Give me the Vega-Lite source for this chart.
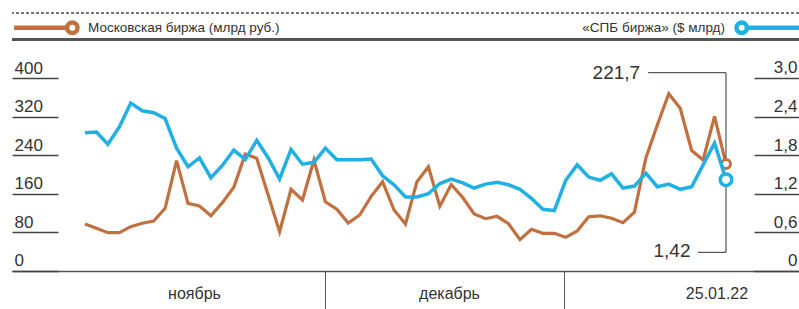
{
  "$schema": "https://vega.github.io/schema/vega-lite/v6.json",
  "width": 787,
  "height": 309,
  "autosize": {"type": "none"},
  "padding": {"left": 12, "top": 0, "right": 0, "bottom": 0},
  "background": "white",
  "config": {
    "view": {"stroke": null},
    "locale": {"number": {"decimal": ",", "thousands": " ", "grouping": [3], "currency": ["", ""]}}
  },
  "title": {
    "text": "ИСТОЧНИКИ: МОСКОВСКАЯ БИРЖА, «СПБ БИРЖА»",
    "anchor": "start",
    "frame": "group",
    "offset": -4,
    "baseline": "alphabetic",
    "font": "Liberation Sans",
    "fontSize": 12,
    "fontWeight": "normal",
    "color": "#333"
  },
  "data": {
    "values": [
      {"i": 0, "msk": 97.4, "spb": 2.15},
      {"i": 1, "msk": 88.5, "spb": 2.16},
      {"i": 2, "msk": 79.4, "spb": 1.97},
      {"i": 3, "msk": 79.4, "spb": 2.24},
      {"i": 4, "msk": 91.8, "spb": 2.61},
      {"i": 5, "msk": 98.9, "spb": 2.49},
      {"i": 6, "msk": 103.6, "spb": 2.46},
      {"i": 7, "msk": 129.9, "spb": 2.37},
      {"i": 8, "msk": 228.6, "spb": 1.91},
      {"i": 9, "msk": 140.3, "spb": 1.62},
      {"i": 10, "msk": 134.7, "spb": 1.76},
      {"i": 11, "msk": 114.6, "spb": 1.45},
      {"i": 12, "msk": 141.6, "spb": 1.64},
      {"i": 13, "msk": 173.5, "spb": 1.88},
      {"i": 14, "msk": 242.5, "spb": 1.73},
      {"i": 15, "msk": 233.6, "spb": 2.03},
      {"i": 16, "msk": 157.5, "spb": 1.76},
      {"i": 17, "msk": 81.5, "spb": 1.43},
      {"i": 18, "msk": 169.3, "spb": 1.89},
      {"i": 19, "msk": 147.2, "spb": 1.66},
      {"i": 20, "msk": 230.0, "spb": 1.69},
      {"i": 21, "msk": 143.6, "spb": 1.91},
      {"i": 22, "msk": 127.9, "spb": 1.73},
      {"i": 23, "msk": 99.5, "spb": 1.73},
      {"i": 24, "msk": 116.1, "spb": 1.73},
      {"i": 25, "msk": 154.8, "spb": 1.74},
      {"i": 26, "msk": 185.1, "spb": 1.48},
      {"i": 27, "msk": 126.4, "spb": 1.34},
      {"i": 28, "msk": 97.4, "spb": 1.15},
      {"i": 29, "msk": 185.1, "spb": 1.15},
      {"i": 30, "msk": 216.2, "spb": 1.2},
      {"i": 31, "msk": 134.1, "spb": 1.36},
      {"i": 32, "msk": 179.3, "spb": 1.43},
      {"i": 33, "msk": 152.3, "spb": 1.37},
      {"i": 34, "msk": 118.1, "spb": 1.29},
      {"i": 35, "msk": 108.4, "spb": 1.35},
      {"i": 36, "msk": 113.4, "spb": 1.38},
      {"i": 37, "msk": 98.0, "spb": 1.34},
      {"i": 38, "msk": 64.9, "spb": 1.27},
      {"i": 39, "msk": 86.4, "spb": 1.13},
      {"i": 40, "msk": 78.1, "spb": 0.96},
      {"i": 41, "msk": 78.1, "spb": 0.94},
      {"i": 42, "msk": 69.8, "spb": 1.41},
      {"i": 43, "msk": 82.9, "spb": 1.65},
      {"i": 44, "msk": 112.5, "spb": 1.46},
      {"i": 45, "msk": 114.4, "spb": 1.41},
      {"i": 46, "msk": 109.2, "spb": 1.51},
      {"i": 47, "msk": 100.1, "spb": 1.29},
      {"i": 48, "msk": 121.9, "spb": 1.32},
      {"i": 49, "msk": 234.2, "spb": 1.52},
      {"i": 50, "msk": 302.6, "spb": 1.31},
      {"i": 51, "msk": 367.5, "spb": 1.35},
      {"i": 52, "msk": 337.2, "spb": 1.27},
      {"i": 53, "msk": 249.7, "spb": 1.31},
      {"i": 54, "msk": 230.0, "spb": 1.65},
      {"i": 55, "msk": 320.6, "spb": 1.99},
      {"i": 56, "msk": 221.7, "spb": 1.42}
    ]
  },
  "layer": [
    {
      "layer": [
        {
          "mark": {"type": "rule", "strokeDash": [3, 2], "color": "#777", "strokeWidth": 1},
          "encoding": {"y": {"datum": 534.1, "type": "quantitative", "scale": {"domain": [-78.76, 561.66], "nice": false, "zero": false}, "title": null}}
        },
        {
          "mark": {"type": "rule", "color": "#555", "strokeWidth": 1.5},
          "encoding": {"y": {"datum": 479.8, "type": "quantitative", "scale": {"domain": [-78.76, 561.66], "nice": false, "zero": false}, "title": null}}
        },
        {
          "mark": {"type": "line", "strokeWidth": 3.2},
          "encoding": {
            "x": {
              "field": "i", "type": "quantitative", "title": null,
              "scale": {"domain": [-6.3776, 62.378], "nice": false, "zero": false},
              "axis": {
                "orient": "bottom", "offset": -38,
                "values": [9.52, 21, 31.8, 41.85, 55.17],
                "domainColor": "#555", "domainWidth": 1.5,
                "tickSize": 38, "tickColor": "#555", "tickWidth": 1,
                "tickOpacity": {"condition": {"test": "datum.value == 21 || datum.value == 41.85", "value": 1}, "value": 0},
                "labelExpr": "datum.value < 15 ? 'ноябрь' : datum.value < 25 ? '' : datum.value < 40 ? 'декабрь' : datum.value < 50 ? '' : '25.01.22'",
                "labelPadding": -16, "labelBaseline": "middle",
                "labelFont": "Liberation Sans", "labelFontSize": 16, "labelColor": "#333",
                "labelFlush": false, "labelOverlap": false, "labelBound": false,
                "grid": false, "title": null
              }
            },
            "y": {
              "field": "msk", "type": "quantitative", "title": null,
              "scale": {"domain": [-78.76, 561.66], "nice": false, "zero": false},
              "axis": {
                "orient": "left", "values": [0, 80, 160, 240, 320, 400],
                "domain": false, "grid": false,
                "tickSize": -46, "tickColor": "#444", "tickWidth": 1.5,
                "labelPadding": 44, "labelAlign": "left", "labelBaseline": "alphabetic", "labelOffset": -5,
                "labelFont": "Liberation Sans", "labelFontSize": 17, "labelColor": "#333",
                "labelOverlap": false, "labelFlush": false, "title": null
              }
            },
            "color": {
              "datum": "Московская биржа (млрд руб.)", "type": "nominal",
              "scale": {"range": ["#C17040"]},
              "legend": {
                "orient": "none", "legendX": 52.8, "legendY": 20.3, "title": null, "padding": 0,
                "symbolType": "M1,0A1,1 0 1,1 -1,0A1,1 0 1,1 1,0Z M-1,0L-11.2,0",
                "symbolSize": 108, "symbolStrokeWidth": 4.5, "symbolFillColor": "white",
                "labelFont": "Liberation Sans", "labelFontSize": 13.5, "labelColor": "#333",
                "labelOffset": 8.2, "labelLimit": 400
              }
            }
          }
        },
        {
          "transform": [{"filter": "datum.i == 56"}],
          "mark": {"type": "rule", "color": "#333", "strokeWidth": 1},
          "encoding": {
            "x": {"field": "i", "type": "quantitative", "scale": {"domain": [-6.3776, 62.378], "nice": false, "zero": false}, "title": null},
            "x2": {"datum": 49.2},
            "y": {"datum": 411, "type": "quantitative", "scale": {"domain": [-78.76, 561.66], "nice": false, "zero": false}, "title": null}
          }
        },
        {
          "transform": [{"filter": "datum.i == 56"}],
          "mark": {"type": "rule", "color": "#333", "strokeWidth": 1},
          "encoding": {
            "x": {"field": "i", "type": "quantitative", "scale": {"domain": [-6.3776, 62.378], "nice": false, "zero": false}, "title": null},
            "y": {"field": "msk", "type": "quantitative", "scale": {"domain": [-78.76, 561.66], "nice": false, "zero": false}, "title": null},
            "y2": {"datum": 411}
          }
        },
        {
          "transform": [{"filter": "datum.i == 56"}],
          "mark": {"type": "text", "align": "right", "baseline": "middle", "font": "Liberation Sans", "fontSize": 19, "color": "#333"},
          "encoding": {
            "x": {"datum": 48.5, "type": "quantitative", "scale": {"domain": [-6.3776, 62.378], "nice": false, "zero": false}, "title": null},
            "y": {"datum": 410, "type": "quantitative", "scale": {"domain": [-78.76, 561.66], "nice": false, "zero": false}, "title": null},
            "text": {"field": "msk", "type": "quantitative", "format": ".1f"}
          }
        },
        {
          "transform": [{"filter": "datum.i == 56"}],
          "mark": {"type": "point", "shape": "circle", "filled": true, "fill": "white", "stroke": "#C17040", "strokeWidth": 3, "size": 81, "opacity": 1},
          "encoding": {
            "x": {"field": "i", "type": "quantitative", "scale": {"domain": [-6.3776, 62.378], "nice": false, "zero": false}, "title": null},
            "y": {"field": "msk", "type": "quantitative", "scale": {"domain": [-78.76, 561.66], "nice": false, "zero": false}, "title": null}
          }
        }
      ]
    },
    {
      "layer": [
        {
          "mark": {"type": "line", "strokeWidth": 3.5},
          "encoding": {
            "x": {"field": "i", "type": "quantitative", "scale": {"domain": [-6.3776, 62.378], "nice": false, "zero": false}, "title": null},
            "y": {
              "field": "spb", "type": "quantitative", "title": null,
              "scale": {"domain": [-0.5907, 4.2124], "nice": false, "zero": false},
              "axis": {
                "orient": "right", "values": [0, 0.6, 1.2, 1.8, 2.4, 3.0],
                "domain": false, "grid": false,
                "tickSize": -45, "tickColor": "#444", "tickWidth": 1.5,
                "labelPadding": 43, "labelAlign": "right", "labelBaseline": "alphabetic", "labelOffset": -5,
                "labelExpr": "datum.value == 0 ? '0' : replace(format(datum.value, '.1f'), '.', ',')",
                "labelFont": "Liberation Sans", "labelFontSize": 17, "labelColor": "#333",
                "labelOverlap": false, "labelFlush": false, "title": null
              }
            },
            "color": {
              "datum": "«СПБ биржа» ($ млрд)", "type": "nominal",
              "scale": {"range": ["#20B0E4"]},
              "legend": {
                "orient": "none", "legendX": 722.2, "legendY": 20.3, "title": null, "padding": 0,
                "symbolType": "M1,0A1,1 0 1,1 -1,0A1,1 0 1,1 1,0Z M1,0L11.5,0",
                "symbolSize": 108, "symbolStrokeWidth": 4.5, "symbolFillColor": "white",
                "labelFont": "Liberation Sans", "labelFontSize": 13.5, "labelColor": "#333",
                "labelAlign": "right", "labelOffset": -24.2, "labelLimit": 400
              }
            }
          }
        },
        {
          "transform": [{"filter": "datum.i == 56"}],
          "mark": {"type": "rule", "color": "#333", "strokeWidth": 1},
          "encoding": {
            "x": {"field": "i", "type": "quantitative", "scale": {"domain": [-6.3776, 62.378], "nice": false, "zero": false}, "title": null},
            "x2": {"datum": 53.55},
            "y": {"datum": 0.29, "type": "quantitative", "scale": {"domain": [-0.5907, 4.2124], "nice": false, "zero": false}, "title": null}
          }
        },
        {
          "transform": [{"filter": "datum.i == 56"}],
          "mark": {"type": "rule", "color": "#333", "strokeWidth": 1},
          "encoding": {
            "x": {"field": "i", "type": "quantitative", "scale": {"domain": [-6.3776, 62.378], "nice": false, "zero": false}, "title": null},
            "y": {"field": "spb", "type": "quantitative", "scale": {"domain": [-0.5907, 4.2124], "nice": false, "zero": false}, "title": null},
            "y2": {"datum": 0.29}
          }
        },
        {
          "transform": [{"filter": "datum.i == 56"}],
          "mark": {"type": "text", "align": "right", "baseline": "middle", "font": "Liberation Sans", "fontSize": 19, "color": "#333"},
          "encoding": {
            "x": {"datum": 52.9, "type": "quantitative", "scale": {"domain": [-6.3776, 62.378], "nice": false, "zero": false}, "title": null},
            "y": {"datum": 0.31, "type": "quantitative", "scale": {"domain": [-0.5907, 4.2124], "nice": false, "zero": false}, "title": null},
            "text": {"field": "spb", "type": "quantitative", "format": ".2f"}
          }
        },
        {
          "transform": [{"filter": "datum.i == 56"}],
          "mark": {"type": "point", "shape": "circle", "filled": true, "fill": "white", "stroke": "#20B0E4", "strokeWidth": 3.5, "size": 132, "opacity": 1},
          "encoding": {
            "x": {"field": "i", "type": "quantitative", "scale": {"domain": [-6.3776, 62.378], "nice": false, "zero": false}, "title": null},
            "y": {"field": "spb", "type": "quantitative", "scale": {"domain": [-0.5907, 4.2124], "nice": false, "zero": false}, "title": null}
          }
        }
      ]
    }
  ],
  "resolve": {"scale": {"y": "independent", "color": "independent"}}
}
